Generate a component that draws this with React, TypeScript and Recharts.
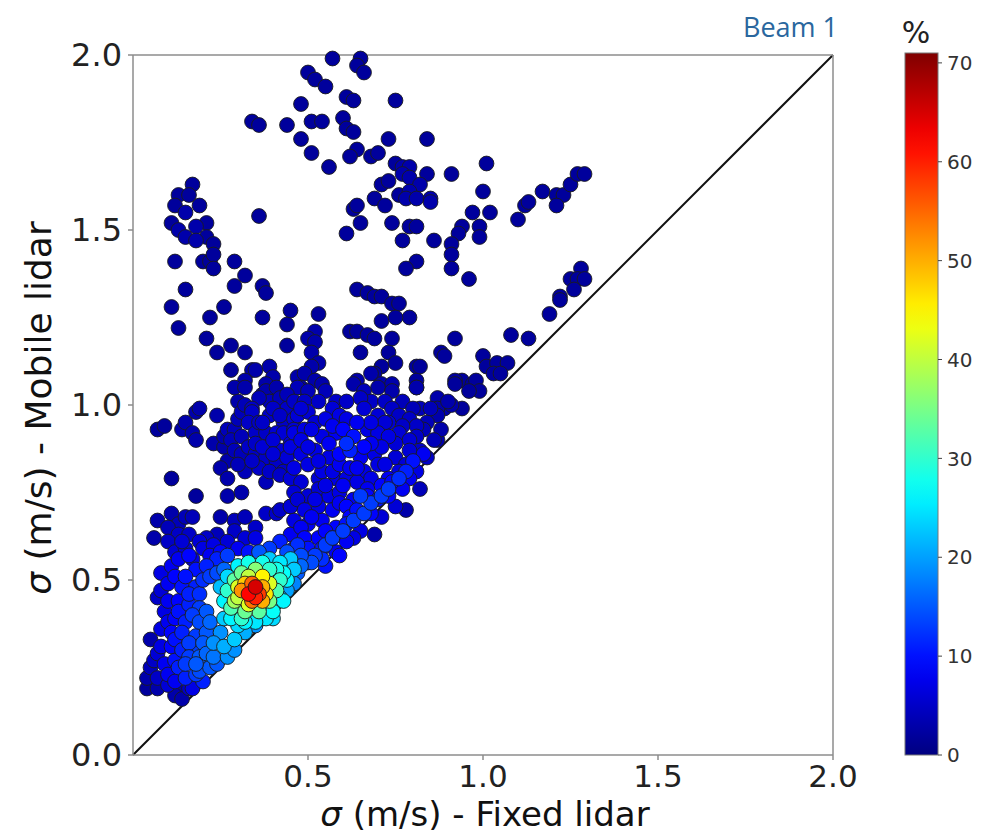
import { ReferenceLine, Scatter, ScatterChart, XAxis, YAxis } from "recharts";

// [fixed σ, mobile σ, point density %]
const sparsePoints: [number, number, number][] = [
  [0.57, 1.99, 2], [0.65, 1.99, 2], [0.64, 1.97, 2], [0.66, 1.95, 2], [0.5, 1.95, 2], [0.52, 1.93, 2],
  [0.55, 1.91, 2], [0.61, 1.88, 2], [0.63, 1.87, 2], [0.75, 1.87, 2], [0.48, 1.86, 2], [0.34, 1.81, 2],
  [0.36, 1.8, 2], [0.44, 1.8, 2], [0.51, 1.81, 2], [0.54, 1.81, 2], [0.6, 1.82, 2], [0.61, 1.79, 2],
  [0.63, 1.78, 2], [0.48, 1.76, 2], [0.73, 1.76, 2], [0.84, 1.76, 2], [0.51, 1.72, 2], [0.64, 1.73, 2],
  [0.62, 1.71, 2], [0.68, 1.71, 2], [0.7, 1.72, 2], [0.56, 1.68, 2], [0.75, 1.69, 2], [0.77, 1.68, 3],
  [0.79, 1.68, 3], [0.77, 1.66, 3], [0.79, 1.65, 3], [0.82, 1.63, 3], [0.84, 1.66, 2], [0.91, 1.66, 2],
  [0.71, 1.63, 2], [0.73, 1.64, 2], [0.79, 1.61, 3], [0.76, 1.6, 2], [0.78, 1.59, 3], [0.81, 1.59, 3],
  [0.85, 1.59, 3], [0.85, 1.58, 3], [0.69, 1.59, 2], [0.72, 1.57, 2], [0.63, 1.56, 2], [0.64, 1.57, 2],
  [0.97, 1.55, 2], [0.61, 1.49, 2], [0.65, 1.52, 2], [0.74, 1.52, 2], [0.79, 1.51, 2], [0.81, 1.51, 2],
  [0.77, 1.47, 2], [0.86, 1.47, 2], [0.94, 1.51, 2], [0.93, 1.49, 2], [0.91, 1.46, 2], [0.91, 1.43, 2],
  [0.81, 1.41, 2], [0.78, 1.39, 2], [0.91, 1.39, 2], [0.96, 1.36, 2],
  [1.01, 1.69, 2], [1.0, 1.61, 2], [1.02, 1.55, 2], [0.99, 1.51, 2], [0.99, 1.48, 2], [1.1, 1.53, 2],
  [1.12, 1.57, 2], [1.13, 1.58, 2], [1.17, 1.61, 2], [1.21, 1.6, 2], [1.23, 1.6, 2], [1.21, 1.57, 2],
  [1.25, 1.63, 2], [1.27, 1.66, 2], [1.29, 1.66, 2],
  [1.28, 1.39, 2], [1.25, 1.36, 2], [1.27, 1.36, 2], [1.29, 1.36, 2], [1.26, 1.33, 2], [1.22, 1.31, 2],
  [1.22, 1.3, 2], [1.19, 1.26, 2], [1.13, 1.19, 2], [1.08, 1.2, 2], [1.0, 1.14, 2], [1.01, 1.11, 2],
  [1.04, 1.12, 2], [1.07, 1.12, 2], [1.03, 1.09, 2], [1.05, 1.09, 2],
  [0.17, 1.63, 2], [0.13, 1.6, 2], [0.16, 1.6, 2], [0.12, 1.57, 2], [0.15, 1.55, 3], [0.19, 1.57, 2],
  [0.11, 1.52, 2], [0.13, 1.5, 3], [0.15, 1.48, 3], [0.18, 1.51, 3], [0.21, 1.52, 2], [0.18, 1.47, 3],
  [0.21, 1.48, 2], [0.23, 1.46, 2], [0.2, 1.41, 2], [0.22, 1.41, 2], [0.23, 1.43, 2], [0.23, 1.39, 2],
  [0.12, 1.41, 2], [0.36, 1.54, 2], [0.29, 1.41, 2], [0.32, 1.37, 2], [0.29, 1.34, 2], [0.15, 1.33, 2],
  [0.37, 1.34, 2], [0.38, 1.32, 2], [0.11, 1.28, 2], [0.13, 1.22, 2], [0.26, 1.28, 2], [0.22, 1.25, 2],
  [0.37, 1.25, 2], [0.45, 1.27, 2], [0.44, 1.23, 2], [0.53, 1.26, 2], [0.64, 1.33, 2], [0.67, 1.32, 2],
  [0.69, 1.31, 2], [0.71, 1.31, 2], [0.74, 1.29, 2], [0.76, 1.29, 2], [0.79, 1.25, 2], [0.71, 1.24, 2],
  [0.75, 1.25, 2], [0.62, 1.21, 2], [0.64, 1.21, 2], [0.67, 1.2, 2], [0.69, 1.19, 2], [0.74, 1.19, 2],
  [0.65, 1.15, 2], [0.73, 1.15, 2], [0.75, 1.12, 2], [0.71, 1.11, 2], [0.92, 1.19, 2], [0.88, 1.15, 2],
  [0.89, 1.14, 2], [0.21, 1.19, 2], [0.24, 1.15, 2], [0.28, 1.17, 2], [0.32, 1.15, 2], [0.44, 1.17, 2],
  [0.52, 1.21, 3], [0.5, 1.19, 3], [0.52, 1.18, 3], [0.51, 1.15, 3], [0.53, 1.12, 3], [0.51, 1.11, 3],
  [0.81, 1.11, 2], [0.28, 1.1, 2], [0.34, 1.1, 3], [0.35, 1.1, 3], [0.39, 1.11, 3], [0.69, 1.09, 2],
  [0.81, 1.07, 2], [0.94, 1.07, 2], [0.97, 1.06, 2], [0.92, 1.07, 2], [0.98, 1.07, 2], [0.99, 1.04, 2],
  [0.96, 1.04, 2], [0.82, 1.11, 2], [0.81, 1.05, 3], [0.94, 0.99, 2], [0.87, 1.02, 3], [0.89, 0.99, 3],
  [0.87, 0.99, 3], [0.91, 1.0, 3], [0.87, 0.9, 3], [0.32, 1.07, 3], [0.4, 1.08, 3], [0.38, 1.06, 3],
  [0.47, 1.08, 3], [0.49, 1.09, 3], [0.48, 1.05, 3], [0.52, 1.07, 3], [0.54, 1.06, 3], [0.64, 1.07, 3],
  [0.68, 1.09, 3], [0.71, 1.06, 3], [0.74, 1.06, 3], [0.41, 1.03, 3], [0.37, 1.03, 3],
];

const cloudPoints: [number, number, number][] = [
  [0.07, 0.93, 2], [0.09, 0.94, 2], [0.14, 0.93, 3], [0.15, 0.95, 3], [0.18, 0.98, 3], [0.19, 0.99, 3],
  [0.17, 0.92, 3], [0.18, 0.9, 3], [0.24, 0.97, 3], [0.23, 0.89, 3], [0.26, 0.88, 3], [0.27, 0.93, 4],
  [0.29, 0.93, 4], [0.3, 0.96, 4], [0.31, 0.98, 4], [0.32, 1.0, 4], [0.3, 1.01, 3], [0.29, 1.05, 3],
  [0.32, 1.05, 3], [0.34, 0.99, 5], [0.34, 0.98, 5], [0.33, 0.95, 5], [0.35, 0.92, 5], [0.28, 0.9, 4],
  [0.29, 0.87, 4], [0.31, 0.86, 4], [0.27, 0.84, 3], [0.25, 0.82, 3], [0.27, 0.79, 3], [0.33, 0.88, 5],
  [0.35, 0.86, 5], [0.37, 0.88, 6], [0.38, 0.85, 5], [0.36, 0.82, 5], [0.32, 0.81, 4], [0.41, 0.84, 5],
  [0.39, 0.81, 5], [0.42, 0.87, 6], [0.44, 0.85, 6], [0.45, 0.82, 5], [0.43, 0.81, 5], [0.38, 1.04, 3],
  [0.41, 1.05, 3], [0.39, 1.01, 4], [0.42, 1.02, 4], [0.44, 0.99, 5], [0.46, 0.96, 6], [0.43, 0.95, 5],
  [0.39, 0.97, 5], [0.41, 0.92, 6], [0.43, 0.92, 6], [0.38, 0.92, 5], [0.46, 0.93, 6], [0.45, 0.89, 6],
  [0.11, 0.79, 2], [0.18, 0.74, 2], [0.27, 0.74, 3], [0.31, 0.75, 3],
  [0.07, 0.67, 3], [0.11, 0.69, 3], [0.13, 0.66, 4], [0.15, 0.68, 4], [0.17, 0.68, 4], [0.06, 0.62, 3],
  [0.1, 0.65, 4], [0.13, 0.63, 5], [0.16, 0.63, 5], [0.1, 0.61, 5], [0.12, 0.58, 6], [0.15, 0.59, 6],
  [0.17, 0.56, 7], [0.21, 0.62, 5], [0.24, 0.63, 4], [0.25, 0.68, 3], [0.29, 0.67, 4], [0.32, 0.68, 4],
  [0.35, 0.65, 5], [0.29, 0.64, 5], [0.32, 0.62, 6], [0.35, 0.62, 7], [0.27, 0.61, 6], [0.3, 0.59, 8],
  [0.33, 0.58, 10], [0.38, 0.69, 5], [0.41, 0.69, 5], [0.42, 0.7, 5], [0.45, 0.71, 6],
  [0.47, 1.05, 4], [0.5, 1.04, 4], [0.55, 1.04, 4], [0.63, 1.06, 3], [0.66, 1.04, 4], [0.7, 1.05, 3],
  [0.74, 1.04, 3], [0.81, 1.05, 3], [0.92, 1.06, 2], [0.46, 1.01, 5], [0.49, 1.01, 5], [0.53, 1.01, 5],
  [0.58, 1.01, 5], [0.61, 1.01, 5], [0.68, 1.01, 5], [0.72, 1.01, 5], [0.74, 0.99, 5], [0.77, 1.01, 4],
  [0.47, 0.97, 6], [0.5, 0.98, 6], [0.52, 0.95, 6], [0.57, 0.99, 6], [0.59, 0.97, 7], [0.61, 0.96, 7],
  [0.66, 0.99, 6], [0.7, 0.97, 6], [0.73, 0.95, 6], [0.76, 0.97, 5], [0.79, 0.96, 5], [0.82, 0.99, 4],
  [0.85, 0.99, 4], [0.9, 1.01, 3], [0.84, 0.95, 4], [0.81, 0.94, 5], [0.87, 0.97, 3],
  [0.46, 0.92, 7], [0.49, 0.93, 7], [0.54, 0.91, 7], [0.58, 0.92, 8], [0.61, 0.89, 12], [0.6, 0.93, 9],
  [0.63, 0.91, 10], [0.67, 0.93, 7], [0.7, 0.92, 7], [0.73, 0.91, 7], [0.76, 0.92, 6], [0.79, 0.9, 6],
  [0.81, 0.91, 5], [0.83, 0.93, 4], [0.86, 0.9, 4], [0.88, 0.93, 3], [0.82, 0.87, 5], [0.79, 0.87, 6],
  [0.84, 0.85, 5], [0.45, 0.88, 7], [0.48, 0.86, 7], [0.52, 0.87, 7], [0.56, 0.85, 7], [0.59, 0.86, 9],
  [0.62, 0.87, 11], [0.65, 0.85, 8], [0.69, 0.86, 7], [0.7, 0.83, 7], [0.75, 0.85, 6], [0.76, 0.81, 7],
  [0.78, 0.83, 6], [0.46, 0.82, 7], [0.5, 0.83, 7], [0.54, 0.81, 7], [0.59, 0.83, 8], [0.62, 0.82, 8],
  [0.66, 0.81, 7], [0.68, 0.79, 7], [0.73, 0.79, 8], [0.45, 0.79, 6], [0.48, 0.78, 6], [0.53, 0.79, 6],
  [0.58, 0.79, 7], [0.61, 0.79, 7], [0.64, 0.78, 7], [0.67, 0.76, 8], [0.71, 0.77, 9], [0.74, 0.78, 9],
  [0.79, 0.79, 8], [0.81, 0.81, 7], [0.82, 0.76, 4], [0.78, 0.7, 3], [0.69, 0.63, 3],
  [0.46, 0.75, 6], [0.5, 0.74, 6], [0.53, 0.76, 6], [0.56, 0.74, 7], [0.59, 0.75, 7], [0.63, 0.73, 8],
  [0.67, 0.74, 9], [0.7, 0.73, 10], [0.73, 0.74, 9], [0.75, 0.71, 6], [0.45, 0.71, 6], [0.49, 0.7, 7],
  [0.53, 0.71, 7], [0.57, 0.7, 8], [0.61, 0.71, 9], [0.64, 0.7, 10], [0.68, 0.69, 9], [0.71, 0.68, 6],
  [0.46, 0.67, 7], [0.5, 0.66, 8], [0.54, 0.67, 8], [0.58, 0.65, 9], [0.61, 0.66, 10], [0.65, 0.64, 7],
  [0.45, 0.63, 8], [0.49, 0.62, 9], [0.53, 0.62, 9], [0.57, 0.62, 10], [0.61, 0.61, 8], [0.63, 0.62, 7],
  [0.46, 0.59, 10], [0.5, 0.59, 10], [0.54, 0.59, 10], [0.58, 0.58, 8],
  [0.36, 1.02, 4], [0.36, 0.95, 5], [0.4, 0.99, 5], [0.42, 0.97, 5], [0.44, 1.03, 4], [0.48, 0.99, 6],
  [0.51, 0.93, 7], [0.55, 0.96, 7], [0.56, 0.89, 8], [0.57, 0.94, 8], [0.64, 0.95, 8], [0.65, 1.02, 5],
  [0.68, 0.95, 7], [0.68, 0.89, 8], [0.71, 0.88, 7], [0.72, 0.95, 6], [0.75, 0.89, 6], [0.77, 0.94, 5],
  [0.8, 0.99, 4], [0.48, 0.9, 7], [0.5, 0.88, 7], [0.53, 0.84, 7], [0.57, 0.81, 7], [0.6, 0.77, 8],
  [0.64, 0.82, 8], [0.66, 0.88, 9], [0.72, 0.83, 7], [0.77, 0.76, 8], [0.52, 0.73, 7], [0.55, 0.77, 7],
  [0.59, 0.72, 8], [0.62, 0.68, 9], [0.55, 0.64, 9], [0.48, 0.65, 8], [0.51, 0.68, 8], [0.47, 0.73, 6],
  [0.4, 0.9, 6], [0.37, 0.95, 5], [0.35, 0.89, 5], [0.31, 0.91, 4], [0.26, 0.91, 3], [0.4, 0.86, 6],
  [0.42, 0.8, 5], [0.38, 0.78, 4], [0.34, 0.84, 5], [0.3, 0.83, 4],
];

const diagonalPoints: [number, number, number][] = [
  [0.47, 0.52, 15], [0.5, 0.55, 14], [0.52, 0.57, 13], [0.55, 0.6, 13], [0.57, 0.62, 13], [0.6, 0.64, 13],
  [0.63, 0.67, 13], [0.66, 0.69, 13], [0.68, 0.72, 13], [0.71, 0.74, 13], [0.73, 0.76, 13], [0.76, 0.79, 12],
  [0.78, 0.81, 11], [0.8, 0.84, 10], [0.83, 0.86, 8], [0.65, 0.74, 13], [0.45, 0.55, 20], [0.48, 0.54, 16],
  [0.51, 0.55, 14], [0.54, 0.56, 12], [0.59, 0.57, 9], [0.55, 0.54, 10], [0.46, 0.49, 18], [0.44, 0.47, 20],
  [0.24, 0.56, 11], [0.27, 0.57, 13], [0.26, 0.53, 16], [0.24, 0.52, 14], [0.36, 0.58, 15], [0.39, 0.59, 13],
  [0.42, 0.61, 11], [0.44, 0.58, 14], [0.47, 0.6, 12], [0.48, 0.57, 14],
];

const lowerPoints: [number, number, number][] = [
  [0.08, 0.52, 7], [0.11, 0.54, 8], [0.13, 0.56, 8], [0.16, 0.57, 9], [0.18, 0.53, 10], [0.21, 0.54, 11],
  [0.22, 0.51, 13], [0.1, 0.49, 8], [0.14, 0.48, 10], [0.18, 0.48, 11], [0.19, 0.46, 12], [0.13, 0.44, 9],
  [0.16, 0.43, 11], [0.19, 0.42, 13], [0.21, 0.41, 15], [0.12, 0.39, 9], [0.15, 0.38, 11], [0.19, 0.38, 14],
  [0.22, 0.38, 16], [0.08, 0.36, 7], [0.11, 0.35, 9], [0.14, 0.35, 11], [0.18, 0.34, 13], [0.21, 0.35, 15],
  [0.05, 0.33, 3], [0.08, 0.31, 7], [0.11, 0.31, 9], [0.14, 0.3, 11], [0.17, 0.3, 13], [0.06, 0.27, 5],
  [0.09, 0.26, 8], [0.12, 0.27, 10], [0.04, 0.22, 3], [0.07, 0.22, 5], [0.1, 0.23, 8], [0.04, 0.19, 2],
  [0.07, 0.19, 3], [0.13, 0.18, 3], [0.16, 0.19, 5], [0.12, 0.17, 3], [0.14, 0.16, 3],
  [0.07, 0.45, 5], [0.09, 0.41, 7], [0.08, 0.47, 6], [0.1, 0.44, 8], [0.12, 0.51, 9], [0.15, 0.51, 10],
  [0.16, 0.46, 11], [0.2, 0.5, 12], [0.17, 0.4, 13], [0.13, 0.41, 10], [0.1, 0.38, 8], [0.12, 0.33, 10],
  [0.16, 0.32, 13], [0.2, 0.32, 15], [0.19, 0.28, 15], [0.16, 0.28, 13], [0.13, 0.25, 11], [0.1, 0.2, 6],
  [0.12, 0.21, 8], [0.07, 0.29, 6], [0.05, 0.25, 4], [0.2, 0.59, 7], [0.22, 0.57, 8], [0.19, 0.61, 6],
  [0.23, 0.6, 7], [0.25, 0.58, 9], [0.14, 0.61, 6],
  [0.42, 0.55, 25], [0.45, 0.56, 23], [0.39, 0.56, 23], [0.43, 0.52, 27], [0.46, 0.53, 23], [0.4, 0.41, 27],
  [0.38, 0.39, 25], [0.35, 0.38, 25], [0.32, 0.38, 26], [0.3, 0.37, 24], [0.26, 0.39, 23], [0.25, 0.35, 19],
  [0.23, 0.32, 19], [0.26, 0.31, 21], [0.29, 0.33, 23], [0.27, 0.28, 19], [0.23, 0.28, 17], [0.21, 0.29, 16],
  [0.22, 0.25, 15], [0.19, 0.24, 14], [0.18, 0.23, 13], [0.15, 0.22, 11], [0.18, 0.26, 15], [0.15, 0.26, 13],
  [0.32, 0.35, 21], [0.35, 0.37, 19], [0.37, 0.4, 21], [0.4, 0.43, 23], [0.42, 0.45, 21], [0.29, 0.3, 19],
  [0.24, 0.26, 15], [0.2, 0.21, 11], [0.17, 0.19, 7],
];

const corePoints: [number, number, number][] = [
  [0.26, 0.44, 26], [0.25, 0.48, 22], [0.27, 0.51, 24], [0.3, 0.54, 26], [0.33, 0.55, 28], [0.37, 0.55, 28],
  [0.41, 0.53, 28], [0.44, 0.5, 26], [0.43, 0.44, 26], [0.4, 0.39, 24], [0.28, 0.39, 26], [0.31, 0.39, 30],
  [0.27, 0.47, 30], [0.28, 0.42, 32], [0.32, 0.41, 34], [0.36, 0.41, 33], [0.39, 0.44, 35], [0.41, 0.47, 32],
  [0.42, 0.5, 30], [0.39, 0.53, 30], [0.35, 0.53, 36], [0.31, 0.52, 34], [0.29, 0.5, 33],
  [0.33, 0.43, 42], [0.33, 0.51, 40], [0.3, 0.48, 42], [0.38, 0.46, 46], [0.37, 0.48, 50],
  [0.39, 0.49, 42], [0.29, 0.44, 38], [0.37, 0.51, 45], [0.3, 0.45, 40], [0.32, 0.49, 48],
  [0.31, 0.47, 52], [0.34, 0.44, 54], [0.37, 0.44, 50], [0.34, 0.49, 55], [0.36, 0.46, 58], [0.35, 0.45, 60],
  [0.33, 0.46, 62], [0.35, 0.48, 65],
];

const X_TICKS = [0.5, 1.0, 1.5, 2.0];
const Y_TICKS = [0, 0.5, 1.0, 1.5, 2.0];
const CB_TICKS = [0, 10, 20, 30, 40, 50, 60, 70];
const CB_MAX = 71;

function jet(v: number) {
  const t = Math.max(0, Math.min(1, v / CB_MAX));
  const c = (x: number) => Math.round(255 * Math.max(0, Math.min(1, x)));
  return `rgb(${c(1.5 - Math.abs(4 * t - 3))},${c(1.5 - Math.abs(4 * t - 2))},${c(1.5 - Math.abs(4 * t - 1))})`;
}

const points = [...sparsePoints, ...cloudPoints, ...diagonalPoints, ...lowerPoints, ...corePoints]
  .map(([x, y, pct]) => ({ x, y, pct }))
  .sort((a, b) => a.pct - b.pct);

const Dot = (props: any) => (
  <circle cx={props.cx} cy={props.cy} r={7.4} fill={jet(props.payload.pct)} stroke="#1c1c1c" strokeWidth={0.9} />
);

const FONT = "DejaVu Sans";
const AXIS = "#8c8c8c";

export default function App() {
  const cbTop = 53;
  const cbBottom = 755;
  const cbY = (v: number) => cbBottom - (v / CB_MAX) * (cbBottom - cbTop);
  return (
    <div style={{ position: "absolute", left: 0, top: 0, width: 1000, height: 836, background: "#fff" }}>
      <ScatterChart width={1000} height={836} margin={{ top: 54, right: 166, bottom: 11, left: 0 }}>
        <XAxis
          xAxisId="b"
          type="number"
          dataKey="x"
          domain={[0, 2]}
          ticks={X_TICKS}
          tickFormatter={(v) => v.toFixed(1)}
          height={70}
          stroke={AXIS}
          strokeWidth={1.5}
          tickSize={5}
          tickMargin={5}
          tick={{ fill: "#222", fontSize: 31, fontFamily: FONT }}
        />
        <XAxis xAxisId="t" orientation="top" type="number" domain={[0, 2]} height={1} tick={false} tickLine={false} stroke={AXIS} strokeWidth={1.5} />
        <YAxis
          yAxisId="l"
          type="number"
          dataKey="y"
          domain={[0, 2]}
          ticks={Y_TICKS}
          tickFormatter={(v) => v.toFixed(1)}
          width={133}
          stroke={AXIS}
          strokeWidth={1.5}
          tickSize={5}
          tickMargin={6}
          tick={{ fill: "#222", fontSize: 32, fontFamily: FONT }}
        />
        <YAxis yAxisId="r" orientation="right" type="number" domain={[0, 2]} width={1} tick={false} tickLine={false} stroke={AXIS} strokeWidth={1.5} />
        <Scatter xAxisId="b" yAxisId="l" data={points} shape={Dot} isAnimationActive={false} />
        <ReferenceLine
          xAxisId="b"
          yAxisId="l"
          segment={[{ x: 0, y: 0 }, { x: 2, y: 2 }]}
          stroke="#111"
          strokeWidth={2}
          ifOverflow="visible"
        />
      </ScatterChart>
      <svg width={1000} height={836} style={{ position: "absolute", left: 0, top: 0, pointerEvents: "none" }}>
        <defs>
          <linearGradient id="jetbar" x1="0" y1="1" x2="0" y2="0">
            {Array.from({ length: 29 }, (_, i) => (
              <stop key={i} offset={i / 28} stopColor={jet((i / 28) * CB_MAX)} />
            ))}
          </linearGradient>
        </defs>
        <text x={485} y={826} textAnchor="middle" fontFamily={FONT} fontSize={34} fill="#111">
          <tspan fontStyle="italic">σ</tspan> (m/s) - Fixed lidar
        </text>
        <text transform="translate(51,408) rotate(-90)" textAnchor="middle" fontFamily={FONT} fontSize={36} fill="#111">
          <tspan fontStyle="italic">σ</tspan> (m/s) - Mobile lidar
        </text>
        <text x={838} y={37} textAnchor="end" fontFamily="Open Sans" fontSize={27} fill="#2a679e">
          Beam 1
        </text>
        <text x={916} y={43} textAnchor="middle" fontFamily={FONT} fontSize={30} fill="#222">
          %
        </text>
        <rect x={905} y={cbTop} width={33} height={cbBottom - cbTop} fill="url(#jetbar)" stroke="#777" strokeWidth={1} />
        {CB_TICKS.map((t) => (
          <g key={t}>
            <line x1={938} x2={942} y1={cbY(t)} y2={cbY(t)} stroke="#444" strokeWidth={1} />
            <text x={947} y={cbY(t)} dy="0.36em" fontFamily={FONT} fontSize={20} fill="#333">
              {t}
            </text>
          </g>
        ))}
      </svg>
    </div>
  );
}
